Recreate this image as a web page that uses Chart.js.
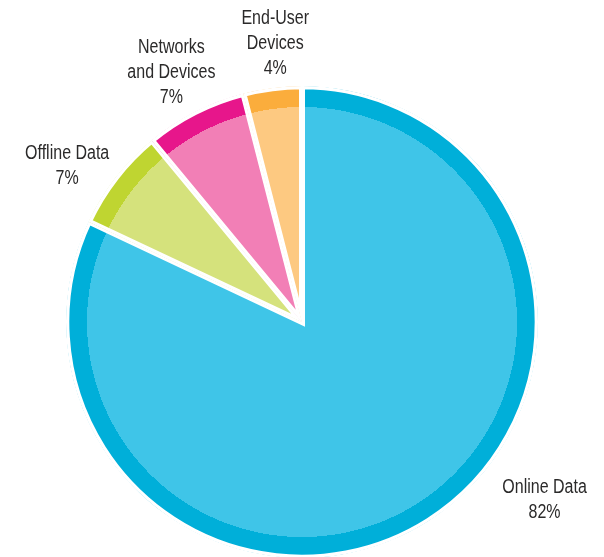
<!DOCTYPE html>
<html>
<head>
<meta charset="utf-8">
<title>Data breach sources</title>
<script src="https://cdn.jsdelivr.net/npm/chart.js@4.4.1/dist/chart.umd.min.js"></script>
<style>
    html, body { margin: 0; padding: 0; background: #ffffff; }
    #wrap { width: 604px; height: 557px; position: relative; }
</style>
</head>
<body>
<div id="wrap"><canvas id="breachPie"></canvas></div>
<script>
// Chart data
const categories = ['Online Data', 'Offline Data', 'Networks and Devices', 'End-User Devices'];
const shares = [82, 7, 7, 4];
const labelLines = [
    ['Online Data', '82%'],
    ['Offline Data', '7%'],
    ['Networks', 'and Devices', '7%'],
    ['End-User', 'Devices', '4%']
];

// Slice colours: light fill + darker outer band
const fillColors = ['#3fc5e8', '#d5e27c', '#f27fb6', '#fdc981'];
const bandColors = ['#00afd9', '#bfd531', '#e7168b', '#fbad3c'];
const bandWidth = 18;

// Where each label sits: angle (deg, canvas coords) and distance / radius
const labelAngles = [36.2, -146.4, -117.6, -95.5];
const labelDist = [1.29, 1.21, 1.21, 1.20];

const pieRadius = 236;

// Radial gradient gives the darker rim on every slice
function sliceFill(context) {
    const chart = context.chart;
    const area = chart.chartArea;
    const i = context.dataIndex;
    if (!area) return fillColors[i];
    const cx = (area.left + area.right) / 2;
    const cy = (area.top + area.bottom) / 2;
    const g = chart.ctx.createRadialGradient(cx, cy, 0, cx, cy, pieRadius);
    const f = (pieRadius - 3 - bandWidth) / pieRadius;
    g.addColorStop(0, fillColors[i]);
    g.addColorStop(f, fillColors[i]);
    g.addColorStop(f, bandColors[i]);
    g.addColorStop(1, bandColors[i]);
    return g;
}

// Plugin to write the category labels around the pie
// (condensed look: regular sans squeezed horizontally)
const sliceLabels = {
    id: 'sliceLabels',
    afterDraw(chart) {
        const arcs = chart.getDatasetMeta(0).data;
        if (!arcs.length) return;
        const ctx = chart.ctx;
        const cx = arcs[0].x, cy = arcs[0].y;
        const r = arcs[0].outerRadius - 3;
        const lineH = 25;
        const squeeze = 0.8;
        labelLines.forEach((lines, i) => {
            const a = labelAngles[i] * Math.PI / 180;
            const x = cx + Math.cos(a) * r * labelDist[i];
            const y = cy + Math.sin(a) * r * labelDist[i];
            const top = y - (lines.length - 1) * lineH / 2;
            ctx.save();
            ctx.translate(x, top);
            ctx.scale(squeeze, 1);
            ctx.font = '20px "Liberation Sans", Arial, sans-serif';
            ctx.fillStyle = '#2b2a2a';
            ctx.textAlign = 'center';
            ctx.textBaseline = 'middle';
            lines.forEach((t, k) => ctx.fillText(t, 0, k * lineH));
            ctx.restore();
        });
    }
};

function renderPie() {
    const ctx = document.getElementById('breachPie').getContext('2d');
    new Chart(ctx, {
        type: 'pie',
        data: {
            labels: categories,
            datasets: [{
                data: shares,
                backgroundColor: sliceFill,
                borderColor: '#ffffff',
                borderWidth: 3,
                borderAlign: 'inner',
                borderJoinStyle: 'miter',
                hoverOffset: 0,
                offset: 0
            }]
        },
        options: {
            responsive: true,
            maintainAspectRatio: false,
            animation: false,
            events: [],
            radius: pieRadius,
            layout: {
                padding: { left: 67, right: 67, top: 87, bottom: 0 }
            },
            plugins: {
                legend: { display: false },
                tooltip: { enabled: false }
            }
        },
        plugins: [sliceLabels]
    });
}

renderPie();
</script>
</body>
</html>
